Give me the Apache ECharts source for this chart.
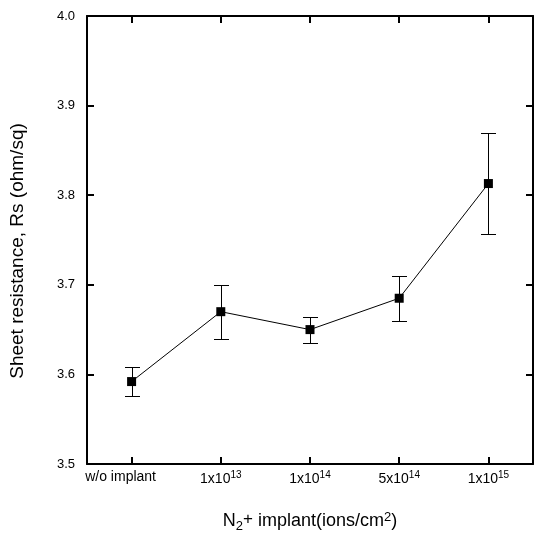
<!DOCTYPE html>
<html>
<head>
<meta charset="utf-8">
<script src="https://cdn.jsdelivr.net/npm/echarts@6/dist/echarts.min.js"></script>
<style>
  html, body { margin: 0; padding: 0; background: #fff; }
  #chart { width: 534px; height: 538px; }
</style>
</head>
<body>
<div id="chart"></div>
<script>
// N2+ implant dose vs. sheet resistance, with error bars
const doses = ['w/o implant', '1x10^13', '1x10^14', '5x10^14', '1x10^15'];
const sheetResistance = [3.592, 3.670, 3.650, 3.685, 3.813];
const errLow = [3.576, 3.640, 3.635, 3.660, 3.757];
const errHigh = [3.608, 3.700, 3.664, 3.710, 3.869];
const yMin = 3.5;
const yMax = 4.0;
const yStep = 0.1;

const FONT = '"Liberation Sans", Arial, Helvetica, sans-serif';

// "1x10^13" -> base text plus superscript exponent
function doseLabel(v) {
  const parts = v.split('^');
  if (parts.length === 1) return '{plain|' + v + '}';
  return '{b|' + parts[0] + '}{sup|' + parts[1] + '}';
}

const chart = echarts.init(document.getElementById('chart'), null, { renderer: 'canvas' });

const axisLine = { show: true, lineStyle: { color: '#000', width: 2 } };
const axisTick = { show: true, inside: true, length: 7, lineStyle: { color: '#000', width: 2 } };

chart.setOption({
  backgroundColor: '#fff',
  animation: false,
  grid: { left: 87, right: 1, top: 16, bottom: 74 },
  xAxis: [
    {
      type: 'category',
      data: doses,
      position: 'bottom',
      boundaryGap: true,
      axisLine: axisLine,
      axisTick: Object.assign({ alignWithLabel: true }, axisTick),
      splitLine: { show: false },
      axisLabel: {
        margin: 6,
        interval: 0,
        color: '#000',
        fontFamily: FONT,
        formatter: doseLabel,
        rich: {
          plain: { fontSize: 14, fontFamily: FONT, color: '#000', padding: [0, 22, 0, 0] },
          b: { fontSize: 14, fontFamily: FONT, color: '#000' },
          sup: { fontSize: 10, fontFamily: FONT, color: '#000', padding: [0, 0, 8, 0] }
        }
      },
      name: '{t|N}{sub|2}{pl|+}{t| implant(ions/cm}{sup|2}{t|)}',
      nameLocation: 'middle',
      nameGap: 46,
      nameTextStyle: {
        color: '#000',
        fontFamily: FONT,
        rich: {
          t: { fontSize: 18, fontFamily: FONT, color: '#000' },
          sub: { fontSize: 13, fontFamily: FONT, color: '#000', padding: [10, 0, 0, 0] },
          pl: { fontSize: 17, fontFamily: FONT, color: '#000', padding: [0, 0, 5, 0] },
          sup: { fontSize: 13, fontFamily: FONT, color: '#000', padding: [0, 0, 8, 0] }
        }
      }
    },
    {
      type: 'category',
      data: doses,
      position: 'top',
      boundaryGap: true,
      axisLine: axisLine,
      axisTick: Object.assign({ alignWithLabel: true }, axisTick),
      axisLabel: { show: false },
      splitLine: { show: false }
    }
  ],
  yAxis: [
    {
      type: 'value',
      min: yMin,
      max: yMax,
      interval: yStep,
      position: 'left',
      axisLine: axisLine,
      axisTick: axisTick,
      splitLine: { show: false },
      axisLabel: {
        margin: 12,
        color: '#000',
        fontSize: 13,
        fontFamily: FONT,
        formatter: v => v.toFixed(1)
      },
      name: 'Sheet resistance, Rs (ohm/sq)',
      nameLocation: 'middle',
      nameGap: 60,
      nameRotate: 90,
      nameTextStyle: {
        color: '#000',
        fontSize: 19,
        fontFamily: FONT,
        padding: [0, 22, 0, 0]
      }
    },
    {
      type: 'value',
      min: yMin,
      max: yMax,
      interval: yStep,
      position: 'right',
      axisLine: axisLine,
      axisTick: axisTick,
      axisLabel: { show: false },
      splitLine: { show: false }
    }
  ],
  series: [
    {
      name: 'error',
      type: 'custom',
      xAxisIndex: 0,
      yAxisIndex: 0,
      z: 2,
      data: doses.map((d, i) => [i, errLow[i], errHigh[i]]),
      renderItem: function (params, api) {
        const x = api.value(0);
        const lo = api.coord([x, api.value(1)]);
        const hi = api.coord([x, api.value(2)]);
        const px = Math.round(lo[0]) + 0.5;
        const yl = Math.round(lo[1]) + 0.5;
        const yh = Math.round(hi[1]) + 0.5;
        const hw = 7.5;
        const st = { stroke: '#000', lineWidth: 1 };
        return {
          type: 'group',
          children: [
            { type: 'line', shape: { x1: px, y1: yl, x2: px, y2: yh }, style: st },
            { type: 'line', shape: { x1: px - hw, y1: yl, x2: px + hw, y2: yl }, style: st },
            { type: 'line', shape: { x1: px - hw, y1: yh, x2: px + hw, y2: yh }, style: st }
          ]
        };
      }
    },
    {
      name: 'Rs',
      type: 'line',
      xAxisIndex: 0,
      yAxisIndex: 0,
      z: 3,
      data: sheetResistance,
      symbol: 'rect',
      symbolSize: 9,
      itemStyle: { color: '#000' },
      lineStyle: { color: '#000', width: 1 }
    }
  ]
});
</script>
</body>
</html>
